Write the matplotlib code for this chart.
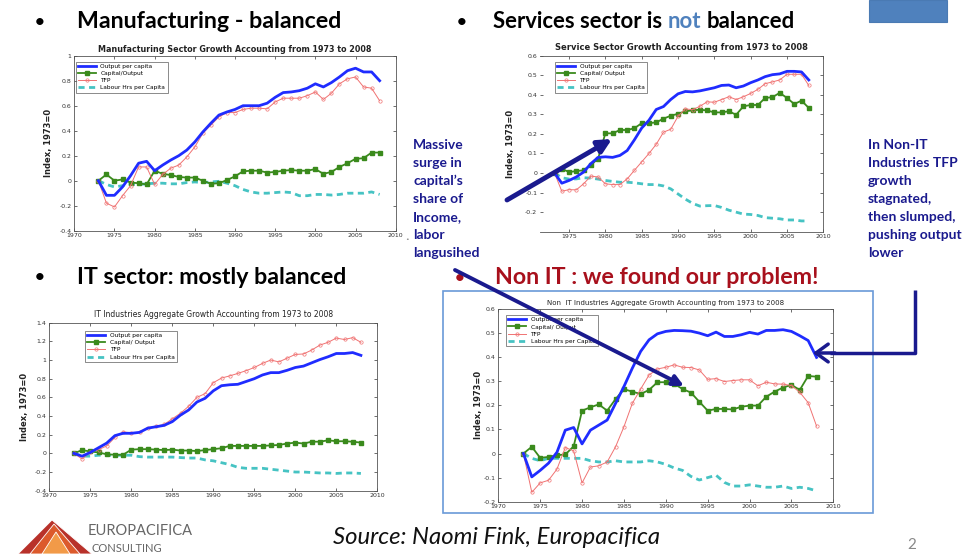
import numpy as np
import matplotlib
matplotlib.use("Agg")
import matplotlib.pyplot as plt
from matplotlib.ticker import FuncFormatter
from matplotlib.patches import Rectangle, Polygon

plt.rcParams["axes.unicode_minus"] = False

W, H = 966, 554
YEARS = np.arange(1973, 2009)

# ── series (index, 1973 = 0) ────────────────────────────────────────────────
MFG_OUTPUT = [0, -0.117, -0.117, -0.05, 0.04, 0.14, 0.155, 0.08,
              0.125, 0.165, 0.2, 0.245, 0.31, 0.39, 0.46, 0.525, 0.55, 0.57,
              0.6, 0.6, 0.6, 0.62, 0.667, 0.705, 0.71, 0.72, 0.74, 0.775,
              0.75, 0.785, 0.83, 0.88, 0.9, 0.87, 0.87, 0.8]
MFG_TFP = [0, -0.18, -0.21, -0.12, -0.04, 0.11, 0.11, -0.03,
           0.05, 0.1, 0.125, 0.19, 0.27, 0.38, 0.445, 0.51, 0.545, 0.545,
           0.57, 0.58, 0.58, 0.575, 0.63, 0.66, 0.66, 0.66, 0.68, 0.71,
           0.65, 0.7, 0.775, 0.815, 0.83, 0.75, 0.74, 0.64]
MFG_CAPITAL = [0, 0.05, 0.0, 0.01, -0.015, -0.02, -0.03, 0.08,
               0.055, 0.045, 0.03, 0.025, 0.025, 0.0, -0.025, -0.02, 0.005, 0.035,
               0.075, 0.08, 0.08, 0.065, 0.07, 0.08, 0.085, 0.08, 0.08, 0.093,
               0.055, 0.07, 0.11, 0.14, 0.175, 0.18, 0.225, 0.225]
MFG_LABOUR = [0, -0.03, -0.05, -0.04, -0.03, -0.03, -0.025, -0.02,
              -0.02, -0.025, -0.025, -0.015, -0.01, -0.015, -0.01, -0.005, -0.02, -0.04,
              -0.07, -0.09, -0.1, -0.1, -0.095, -0.09, -0.095, -0.12, -0.12, -0.11,
              -0.11, -0.115, -0.11, -0.1, -0.1, -0.1, -0.09, -0.11]

SRV_OUTPUT = [0, -0.052, -0.038, -0.02, 0.005, 0.048, 0.08, 0.083,
              0.08, 0.09, 0.115, 0.17, 0.23, 0.27, 0.325, 0.34, 0.376, 0.405,
              0.417, 0.415, 0.42, 0.428, 0.436, 0.448, 0.45, 0.436, 0.445, 0.462,
              0.476, 0.493, 0.503, 0.507, 0.52, 0.52, 0.517, 0.476]
SRV_TFP = [0, -0.093, -0.085, -0.086, -0.055, -0.016, -0.02, -0.055,
           -0.059, -0.059, -0.03, 0.014, 0.057, 0.1, 0.147, 0.209, 0.224, 0.29,
           0.328, 0.324, 0.341, 0.364, 0.362, 0.376, 0.39, 0.376, 0.39, 0.407,
           0.428, 0.457, 0.466, 0.476, 0.505, 0.505, 0.505, 0.448]
SRV_CAPITAL = [0, 0.022, 0.005, 0.01, 0.014, 0.04, 0.074, 0.203,
               0.203, 0.22, 0.22, 0.229, 0.255, 0.255, 0.259, 0.278, 0.293, 0.303,
               0.316, 0.32, 0.324, 0.32, 0.31, 0.31, 0.316, 0.298, 0.341, 0.348,
               0.348, 0.384, 0.388, 0.41, 0.384, 0.353, 0.37, 0.333]
SRV_LABOUR = [0, -0.024, -0.031, -0.03, -0.024, -0.026, -0.031, -0.038,
              -0.043, -0.047, -0.047, -0.05, -0.055, -0.059, -0.059, -0.066, -0.081, -0.107,
              -0.133, -0.155, -0.169, -0.167, -0.166, -0.176, -0.19, -0.2, -0.21, -0.212,
              -0.217, -0.228, -0.231, -0.234, -0.24, -0.24, -0.245, -0.245]

IT_OUTPUT = [0, -0.03, 0.01, 0.06, 0.11, 0.19, 0.215, 0.215,
             0.225, 0.27, 0.285, 0.3, 0.34, 0.41, 0.465, 0.55, 0.59, 0.67,
             0.725, 0.735, 0.74, 0.77, 0.8, 0.84, 0.865, 0.865, 0.89, 0.92,
             0.935, 0.97, 1.005, 1.035, 1.07, 1.07, 1.08, 1.05]
IT_TFP = [0, -0.06, 0.015, 0.04, 0.08, 0.17, 0.23, 0.22,
          0.225, 0.275, 0.29, 0.31, 0.37, 0.43, 0.505, 0.6, 0.64, 0.757,
          0.807, 0.83, 0.857, 0.886, 0.92, 0.964, 1.0, 0.98, 1.02, 1.06,
          1.065, 1.107, 1.16, 1.19, 1.235, 1.22, 1.24, 1.19]
IT_CAPITAL = [0, 0.035, 0.02, 0.01, -0.01, -0.015, -0.015, 0.04,
              0.045, 0.045, 0.04, 0.035, 0.04, 0.03, 0.03, 0.025, 0.035, 0.045,
              0.055, 0.08, 0.08, 0.08, 0.08, 0.08, 0.085, 0.09, 0.105, 0.115,
              0.105, 0.125, 0.125, 0.14, 0.13, 0.13, 0.125, 0.115]
IT_LABOUR = [0, -0.03, -0.03, -0.02, -0.02, -0.02, -0.02, -0.02,
             -0.035, -0.04, -0.04, -0.04, -0.04, -0.045, -0.05, -0.05, -0.07, -0.08,
             -0.1, -0.12, -0.15, -0.16, -0.16, -0.16, -0.17, -0.18, -0.19, -0.2,
             -0.2, -0.205, -0.21, -0.21, -0.215, -0.21, -0.21, -0.215]

NIT_OUTPUT = [0, -0.097, -0.07, -0.04, 0.005, 0.097, 0.108, 0.04,
              0.097, 0.118, 0.139, 0.208, 0.278, 0.354, 0.424, 0.472, 0.497, 0.507,
              0.511, 0.51, 0.508, 0.5, 0.489, 0.504, 0.486, 0.486, 0.493, 0.503,
              0.496, 0.511, 0.511, 0.514, 0.507, 0.489, 0.469, 0.399]
NIT_TFP = [0, -0.161, -0.122, -0.111, -0.065, 0.025, 0.011, -0.122,
           -0.056, -0.051, -0.035, 0.028, 0.111, 0.208, 0.268, 0.326, 0.351, 0.358,
           0.368, 0.358, 0.357, 0.347, 0.308, 0.311, 0.299, 0.303, 0.306, 0.306,
           0.281, 0.296, 0.289, 0.288, 0.282, 0.254, 0.211, 0.114]
NIT_CAPITAL = [0, 0.028, -0.018, -0.014, -0.007, -0.004, 0.03, 0.178,
               0.192, 0.204, 0.178, 0.226, 0.267, 0.257, 0.247, 0.264, 0.296, 0.296,
               0.289, 0.268, 0.253, 0.215, 0.178, 0.185, 0.185, 0.183, 0.194, 0.199,
               0.199, 0.236, 0.257, 0.274, 0.285, 0.264, 0.322, 0.319]
NIT_LABOUR = [0, -0.02, -0.03, -0.02, -0.02, -0.02, -0.02, -0.02,
              -0.03, -0.035, -0.035, -0.03, -0.035, -0.035, -0.035, -0.03, -0.035, -0.045,
              -0.06, -0.07, -0.095, -0.11, -0.1, -0.09, -0.12, -0.135, -0.135, -0.13,
              -0.135, -0.14, -0.14, -0.135, -0.145, -0.14, -0.145, -0.155]

LEGEND_MFG = ["Output per capita", "Capital/Output", "TFP", "Labour Hrs per Capita"]
LEGEND_OTHER = ["Output per capita", "Capital/ Output", "TFP", "Labour Hrs per Capita"]

LEFT_NOTE = ["Massive", "surge in", "capital\u2019s", "share of", "Income,",
             "labor", "langusihed"]
RIGHT_NOTE = ["In Non-IT", "Industries TFP", "growth", "stagnated,",
              "then slumped,", "pushing output", "lower"]

C_OUT, C_CAP, C_TFP, C_LAB = "#1f2cff", "#3a8a1c", "#f07272", "#46c3c3"
NAVY = "#1a1a8e"
SLIDE_FONT = ["Lato", "DejaVu Sans"]


def px_axes(fig, left, top, right, bottom):
    return fig.add_axes([left / W, 1 - bottom / H, (right - left) / W, (bottom - top) / H])


def panel(ax, title, title_kw, series, labels, xlim, xticks, ylim, yticks,
          leg_anchor, ylab_x, title_dy):
    out, cap, tfp, lab = series
    ax.plot(YEARS, out, color=C_OUT, lw=2.0, label=labels[0], zorder=4)
    ax.plot(YEARS, cap, color=C_CAP, lw=1.3, marker="s", ms=2.2, label=labels[1], zorder=3)
    ax.plot(YEARS, tfp, color=C_TFP, lw=0.7, marker="o", ms=2.4, mfc="none",
            mew=0.5, label=labels[2], zorder=3)
    ax.plot(YEARS, lab, color=C_LAB, lw=2.0, ls=(0, (2.2, 1.6)), label=labels[3], zorder=2)
    ax.set_xlim(*xlim)
    ax.set_ylim(*ylim)
    ax.set_xticks(xticks)
    ax.set_yticks(yticks)
    ax.yaxis.set_major_formatter(FuncFormatter(lambda v, _: f"{v:g}"))
    ax.tick_params(direction="in", length=2.5, width=0.5, top=True, right=True,
                   labelsize=4.5, pad=2, colors="#333333")
    for s in ax.spines.values():
        s.set_color("#555555")
        s.set_linewidth(0.6)
    ax.set_ylabel("Index, 1973=0", fontsize=6, fontweight="bold", color="#222222")
    ax.yaxis.set_label_coords(ylab_x, 0.5)
    ax.text(0.5, 1 + title_dy, title, transform=ax.transAxes, ha="center",
            va="center", color="#222222", **title_kw)
    leg = ax.legend(loc="upper left", bbox_to_anchor=leg_anchor, borderaxespad=0,
                    fontsize=4.2, frameon=True, fancybox=False, edgecolor="#333333",
                    handlelength=3.0, labelspacing=0.35, borderpad=0.4)
    leg.get_frame().set_linewidth(0.5)


fig = plt.figure(figsize=(W / 100, H / 100), dpi=100)
fig.patch.set_facecolor("white")

ax1 = px_axes(fig, 74.3, 55.7, 395.7, 230.7)
panel(ax1, "Manufacturing Sector Growth Accounting from 1973 to 2008",
      dict(fontsize=5.8, fontweight="bold"),
      (MFG_OUTPUT, MFG_CAPITAL, MFG_TFP, MFG_LABOUR), LEGEND_MFG,
      (1970, 2010), range(1970, 2011, 5), (-0.4, 1.0), np.arange(-0.4, 1.01, 0.2),
      (0.005, 0.966), -0.066, 0.037)

ax2 = px_axes(fig, 540, 55.7, 823.3, 231.7)
panel(ax2, "Service Sector Growth Accounting from 1973 to 2008",
      dict(fontsize=6.0, fontweight="bold"),
      (SRV_OUTPUT, SRV_CAPITAL, SRV_TFP, SRV_LABOUR), LEGEND_OTHER,
      (1971, 2010), range(1975, 2011, 5), (-0.3, 0.6), np.arange(-0.2, 0.61, 0.1),
      (0.053, 0.966), -0.088, 0.048)
ax2.spines["left"].set_visible(False)

ax3 = px_axes(fig, 49.3, 322.7, 377.3, 490.7)
panel(ax3, "IT Industries Aggregate Growth Accounting from 1973 to 2008",
      dict(fontsize=5.5),
      (IT_OUTPUT, IT_CAPITAL, IT_TFP, IT_LABOUR), LEGEND_OTHER,
      (1970, 2010), range(1970, 2011, 5), (-0.4, 1.4), np.arange(-0.4, 1.41, 0.2),
      (0.109, 0.952), -0.062, 0.046)

ax4 = px_axes(fig, 498.3, 309, 833.3, 501.7)
panel(ax4, "Non  IT Industries Aggregate Growth Accounting from 1973 to 2008",
      dict(fontsize=5.0),
      (NIT_OUTPUT, NIT_CAPITAL, NIT_TFP, NIT_LABOUR), LEGEND_OTHER,
      (1970, 2010), range(1970, 2011, 5), (-0.2, 0.6), np.arange(-0.2, 0.61, 0.1),
      (0.023, 0.969), -0.047, 0.033)

# ── slide layer (pixel coordinates, y down) ──
ov = fig.add_axes([0, 0, 1, 1])
ov.set_xlim(0, W)
ov.set_ylim(H, 0)
ov.axis("off")

ov.add_patch(Rectangle((869, 0), 78, 22, facecolor="#4f81bd", edgecolor="#4a7ab3", lw=0.8))
ov.add_patch(Rectangle((443, 291), 430, 222, facecolor="none", edgecolor="#6a9ad8", lw=1.2))

head_kw = dict(fontfamily=SLIDE_FONT, fontweight="bold", va="center", fontsize=16)
for x, y, c in [(40, 22, "black"), (462, 22, "black"), (40, 277, "black"), (460, 278, "#a8101c")]:
    ov.text(x, y, "\u2022", ha="center", color=c, fontfamily=SLIDE_FONT,
            fontweight="bold", va="center", fontsize=12)

t1 = ov.text(77, 22, "Manufacturing - balanced", **head_kw)
t2a = ov.text(493, 22, "Services sector is", **head_kw)
t2b = ov.text(672, 22, "not", color="#4f81bd", **head_kw)
t2c = ov.text(718, 22, "balanced", **head_kw)
t3 = ov.text(77, 277, "IT sector: mostly balanced", **head_kw)
t4 = ov.text(495, 278, "Non IT : we found our problem!", color="#a8101c", **head_kw)

note_kw = dict(fontfamily=SLIDE_FONT, fontweight="bold", va="center", fontsize=10, color=NAVY)
for i, line in enumerate(LEFT_NOTE):
    ov.text(413, 145 + i * 18, line, **note_kw)
for i, line in enumerate(RIGHT_NOTE):
    ov.text(868, 145 + i * 18, line, **note_kw)
ov.text(407, 239, "\u2022", fontsize=4.5, color="#888888", ha="center", va="center")

src = ov.text(497, 538, "Source: Naomi Fink, Europacifica", fontfamily=SLIDE_FONT,
              style="italic", fontsize=15, ha="center", va="center", color="#111111")
ov.text(912, 545, "2", fontfamily=SLIDE_FONT, fontsize=11, color="#888888",
        ha="center", va="center")

# logo: striped mountain
for pts, col in [([(18, 554), (52, 520), (92, 554)], "#b8312a"),
                 ([(30, 554), (54, 524), (80, 554)], "#dc5a2c"),
                 ([(42, 554), (56, 532), (70, 554)], "#f29a48")]:
    ov.add_patch(Polygon(pts, closed=True, facecolor=col, edgecolor="white", lw=0.6))
ov.text(88, 531, "EUROPACIFICA", fontfamily=SLIDE_FONT, fontsize=10.5,
        color="#666666", va="center")
ov.text(92, 548, "CONSULTING", fontfamily=SLIDE_FONT, fontsize=8,
        color="#666666", va="center")

# arrows
ov.annotate("", xy=(612, 139), xytext=(507, 200),
            arrowprops=dict(arrowstyle="-|>", lw=3.5, color=NAVY, mutation_scale=20,
                            shrinkA=0, shrinkB=0))
ov.annotate("", xy=(684, 386), xytext=(455, 270),
            arrowprops=dict(arrowstyle="-|>", lw=2.8, color=NAVY, mutation_scale=16,
                            shrinkA=0, shrinkB=0))
ov.plot([915, 915, 830], [290, 353, 353], color=NAVY, lw=2.5, solid_capstyle="butt")
ov.annotate("", xy=(813, 353), xytext=(835, 353),
            arrowprops=dict(arrowstyle="->,head_length=0.55,head_width=0.4", lw=2.5,
                            color=NAVY, mutation_scale=16, shrinkA=0, shrinkB=0))

# fit slide text widths to the reference, then chain the coloured word
fig.canvas.draw()
r = fig.canvas.get_renderer()
for t, wpx in [(t1, 265), (t2a, 170), (t3, 270), (t4, 325), (src, 327)]:
    t.set_fontsize(t.get_fontsize() * wpx / t.get_window_extent(r).width)
fs = t2a.get_fontsize()
gap = 0.26 * fs * 100 / 72
t2b.set_fontsize(fs)
t2c.set_fontsize(fs)
t2b.set_x(t2a.get_window_extent(r).x1 + gap)
t2c.set_x(t2b.get_window_extent(r).x1 + gap)

fig.savefig("out.png", dpi=100)
